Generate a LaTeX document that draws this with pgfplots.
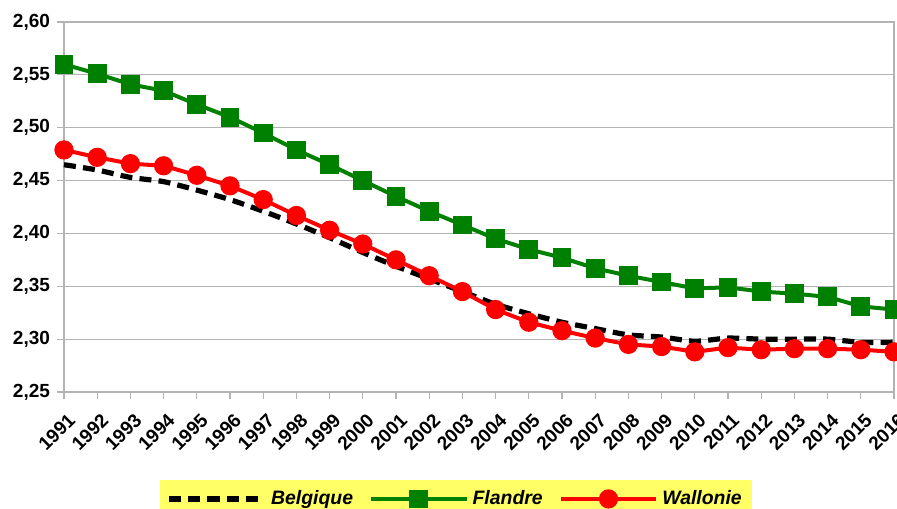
\documentclass[border=0pt]{standalone}
\usepackage{pgfplots}
\pgfplotsset{compat=1.18}
\usepackage{fontspec}
\setmainfont{Liberation Sans}
\definecolor{fgreen}{HTML}{008000}
\definecolor{wred}{HTML}{FF0000}
\definecolor{legy}{HTML}{FFFF66}
\definecolor{gridg}{HTML}{B3B3B3}
\begin{document}
\begin{tikzpicture}
\path[use as bounding box] (-32pt,-58pt) rectangle (416.5pt,196pt);
\begin{axis}[
  at={(0pt,0pt)}, anchor=south west,
  scale only axis, width=415pt, height=185pt,
  xmin=1991, xmax=2016, ymin=2.25, ymax=2.60,
  xtick={1991,1992,...,2016},
  ytick={2.25,2.30,...,2.61},
  clip=false,
  axis line style={gridg, line width=0.6pt},
  tick style={gridg, line width=0.6pt},
  major tick length=3.5pt,
  tick align=outside,
  xtick pos=bottom, ytick pos=left,
  ymajorgrids, major grid style={gridg, line width=0.6pt},
  /pgf/number format/assume math mode=true,
  tick label style={font=\fontsize{9.5}{11}\selectfont\bfseries},
  yticklabel style={/pgf/number format/.cd, use comma, fixed, fixed zerofill, precision=2},
  xticklabel style={yshift=-5pt, xshift=1.5pt, rotate=45, anchor=north east, inner sep=1pt, /pgf/number format/1000 sep={}},
  legend columns=3,
  legend style={at={(0.4723,-0.2378)}, anchor=north, fill=legy, draw=none,
    font=\fontsize{9.7}{11}\selectfont\bfseries\itshape,
    /tikz/every even column/.append style={column sep=6pt},
    inner sep=3pt},
  legend image code/.code={\draw[mark repeat=2,mark phase=2] plot coordinates {(0cm,0cm) (0.84cm,0cm) (1.68cm,0cm)};},
]
\addplot[black, line width=2.6pt, dash pattern=on 6pt off 3.6pt, smooth, tension=0.4] coordinates {
(1991,2.465) (1992,2.460) (1993,2.453) (1994,2.449) (1995,2.441) (1996,2.432)
(1997,2.421) (1998,2.409) (1999,2.396) (2000,2.382) (2001,2.369) (2002,2.357)
(2003,2.345) (2004,2.333) (2005,2.324) (2006,2.316) (2007,2.310) (2008,2.304)
(2009,2.302) (2010,2.298) (2011,2.301) (2012,2.300) (2013,2.300) (2014,2.300)
(2015,2.297) (2016,2.297)};
\addlegendentry{Belgique}
\addplot[fgreen, line width=2pt, mark=square*, mark size=3.7pt, mark options={solid}] coordinates {
(1991,2.560) (1992,2.551) (1993,2.541) (1994,2.535) (1995,2.522) (1996,2.510)
(1997,2.495) (1998,2.479) (1999,2.465) (2000,2.450) (2001,2.435) (2002,2.421)
(2003,2.408) (2004,2.395) (2005,2.385) (2006,2.377) (2007,2.367) (2008,2.360)
(2009,2.354) (2010,2.348) (2011,2.349) (2012,2.345) (2013,2.343) (2014,2.340)
(2015,2.331) (2016,2.328)};
\addlegendentry{Flandre}
\addplot[wred, line width=2pt, mark=*, mark size=3.8pt, mark options={solid}] coordinates {
(1991,2.479) (1992,2.472) (1993,2.466) (1994,2.464) (1995,2.455) (1996,2.445)
(1997,2.432) (1998,2.417) (1999,2.403) (2000,2.390) (2001,2.375) (2002,2.360)
(2003,2.345) (2004,2.328) (2005,2.316) (2006,2.308) (2007,2.301) (2008,2.295)
(2009,2.293) (2010,2.288) (2011,2.292) (2012,2.290) (2013,2.291) (2014,2.291)
(2015,2.290) (2016,2.288)};
\addlegendentry{Wallonie}
\end{axis}
\end{tikzpicture}
\end{document}
